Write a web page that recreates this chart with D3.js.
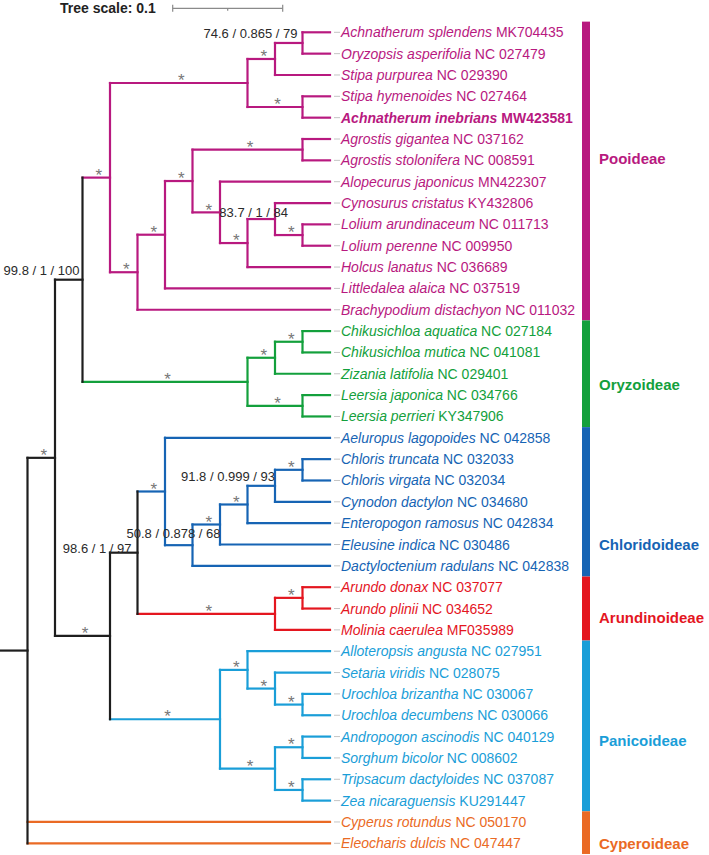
<!DOCTYPE html>
<html>
<head>
<meta charset="utf-8">
<script src="https://cdn.jsdelivr.net/npm/d3@7"></script>
<style>
  html, body { margin: 0; padding: 0; background: #ffffff; }
  svg { display: block; font-family: "Liberation Sans", Arial, Helvetica, sans-serif; }
</style>
</head>
<body>
<script>
// ---------------- DATA ----------------
const leafSpecies = [
  "Achnatherum splendens", "Oryzopsis asperifolia", "Stipa purpurea", "Stipa hymenoides",
  "Achnatherum inebrians", "Agrostis gigantea", "Agrostis stolonifera", "Alopecurus japonicus",
  "Cynosurus cristatus", "Lolium arundinaceum", "Lolium perenne", "Holcus lanatus",
  "Littledalea alaica", "Brachypodium distachyon",
  "Chikusichloa aquatica", "Chikusichloa mutica", "Zizania latifolia", "Leersia japonica", "Leersia perrieri",
  "Aeluropus lagopoides", "Chloris truncata", "Chloris virgata", "Cynodon dactylon",
  "Enteropogon ramosus", "Eleusine indica", "Dactyloctenium radulans",
  "Arundo donax", "Arundo plinii", "Molinia caerulea",
  "Alloteropsis angusta", "Setaria viridis", "Urochloa brizantha", "Urochloa decumbens",
  "Andropogon ascinodis", "Sorghum bicolor", "Tripsacum dactyloides", "Zea nicaraguensis",
  "Cyperus rotundus", "Eleocharis dulcis"
];
const leafAccessions = [
  "MK704435", "NC 027479", "NC 029390", "NC 027464",
  "MW423581", "NC 037162", "NC 008591", "MN422307",
  "KY432806", "NC 011713", "NC 009950", "NC 036689",
  "NC 037519", "NC 011032",
  "NC 027184", "NC 041081", "NC 029401", "NC 034766", "KY347906",
  "NC 042858", "NC 032033", "NC 032034", "NC 034680",
  "NC 042834", "NC 030486", "NC 042838",
  "NC 037077", "NC 034652", "MF035989",
  "NC 027951", "NC 028075", "NC 030067", "NC 030066",
  "NC 040129", "NC 008602", "NC 037087", "KU291447",
  "NC 050170", "NC 047447"
];
const highlightedLeaves = [4];

const cladeNames  = ["Pooideae", "Oryzoideae", "Chloridoideae", "Arundinoideae", "Panicoideae", "Cyperoideae"];
const cladeSizes  = [14, 5, 7, 3, 8, 2];
const cladeColors = ["#b8197f", "#13a03c", "#1664b4", "#e4161f", "#1a9ed8", "#ea6a24"];
const cladeLabelAt = [5.9, 16.5, 24, 27.4, 33.2, 38];   // leaf index where subfamily label sits

// support values (ML bootstrap / Bayesian PP / MP bootstrap); "*" = full support
const supportTexts = ["74.6 / 0.865 / 79", "83.7 / 1 / 84", "99.8 / 1 / 100",
                      "91.8 / 0.999 / 93", "50.8 / 0.878 / 68", "98.6 / 1 / 97"];

// topology with branch lengths (leaves = index into leafSpecies; internal label = support)
const stipeae   = "(((0:0.025,1:0.025)b0:0.025,2:0.05)*:0.025,(3:0.025,4:0.025)*:0.05)*:0.125";
const poeae     = "((((5:0.025,6:0.025)*:0.1,(7:0.1,((8:0.05,(9:0.025,10:0.025)*:0.025)b1:0.025,11:0.075)*:0.025)*:0.025)*:0.025,12:0.15)*:0.025,13:0.175)*:0.025";
const oryzo     = "(((14:0.025,15:0.025)*:0.025,16:0.05)*:0.025,(17:0.025,18:0.025)*:0.05)*:0.15";
const chlorido  = "(19:0.15,(((((20:0.025,21:0.025)*:0.025,22:0.05)b3:0.025,23:0.075)*:0.025,24:0.1)*:0.025,25:0.125)b4:0.025)*:0.025";
const arundino  = "((26:0.025,27:0.025)*:0.025,28:0.05)*:0.125";
const panico    = "((29:0.075,(30:0.05,(31:0.025,32:0.025)*:0.025)*:0.025)*:0.025,((33:0.025,34:0.025)*:0.025,(35:0.025,36:0.025)*:0.025)*:0.05)*:0.1";
const newick =
  "(((" + "(" + stipeae + "," + poeae + ")*:0.025," + oryzo + ")b2:0.025," +
  "((" + chlorido + "," + arundino + ")b5:0.025," + panico + ")*:0.05)*:0.025," +
  "37:0.275,38:0.275):0.025;";

const treeScaleValue = 0.1;

// ---------------- STYLE / LAYOUT ----------------
const W = 709, H = 855;
const tipX = 330, labelX = 341, barX = 582, barW = 8, cladeLabelX = 599;
const supportOffsets = { b0: [-5, -4.5], b1: [13, -2], b2: [-3, -5], b3: [0, -4.5], b4: [28, -7.5], b5: [-6, 0] };

function parseNewick(s) {
  let i = 0;
  function node() {
    const n = { name: "", length: 0 };
    if (s[i] === "(") {
      i++; n.children = [];
      n.children.push(node());
      while (s[i] === ",") { i++; n.children.push(node()); }
      i++; // ')'
    }
    let name = "";
    while (i < s.length && !":,();".includes(s[i])) name += s[i++];
    n.name = name;
    if (s[i] === ":") {
      i++; let num = "";
      while (i < s.length && !",();".includes(s[i])) num += s[i++];
      n.length = +num;
    }
    return n;
  }
  return node();
}

const root = d3.hierarchy(parseNewick(newick));
root.each(d => { d.dist = (d.parent ? d.parent.dist : 0) + d.data.length; });

const nLeaves = leafSpecies.length;
const x = d3.scaleLinear().domain([0, 0.3]).range([0, tipX]);
const y = d3.scaleLinear().domain([0, nLeaves - 1]).range([32.3, 843.3]);
const step = y(1) - y(0);

// clade of each leaf
const leafClade = [];
cladeSizes.forEach((n, c) => { for (let k = 0; k < n; k++) leafClade.push(c); });

root.eachAfter(d => {
  if (!d.children) {
    d.leafIndex = +d.data.name;
    d.y = y(d.leafIndex);
    d.clade = leafClade[d.leafIndex];
  } else {
    d.y = (d.children[0].y + d.children[d.children.length - 1].y) / 2;
    const cs = new Set(d.children.map(c => c.clade));
    d.clade = (cs.size === 1 && !cs.has(-1)) ? d.children[0].clade : -1;
  }
  d.x = x(d.dist);
});
const colorOf = d => d.clade >= 0 ? cladeColors[d.clade] : "#1e1e1e";

const svg = d3.select("body").append("svg").attr("width", W).attr("height", H);

// ---- tree scale ----
svg.append("text").attr("x", 60).attr("y", 12.5)
  .attr("font-size", 14).attr("font-weight", "bold").attr("fill", "#222")
  .text("Tree scale: " + treeScaleValue);
const sb0 = 172.7, sbLen = x(treeScaleValue) - x(0), sbY = 8.3;
const sg = svg.append("g").attr("stroke", "#8a8a8a").attr("stroke-width", 1.2);
sg.append("line").attr("x1", sb0).attr("x2", sb0 + sbLen).attr("y1", sbY).attr("y2", sbY);
sg.append("line").attr("x1", sb0).attr("x2", sb0).attr("y1", sbY - 3.5).attr("y2", sbY + 3.5);
sg.append("line").attr("x1", sb0 + sbLen).attr("x2", sb0 + sbLen).attr("y1", sbY - 3.5).attr("y2", sbY + 3.5);
sg.append("line").attr("x1", sb0 + sbLen / 2).attr("x2", sb0 + sbLen / 2).attr("y1", sbY).attr("y2", sbY + 2.5);

// ---- branches ----
const gb = svg.append("g").attr("fill", "none").attr("stroke-width", 2.2).attr("stroke-linecap", "square");
gb.append("path").attr("d", `M0,${root.y}H${root.x}`).attr("stroke", "#1e1e1e");
root.descendants().filter(d => d.parent).forEach(d => {
  gb.append("path").attr("d", `M${d.parent.x},${d.y}H${d.x}`).attr("stroke", colorOf(d));
});
root.descendants().filter(d => d.children).forEach(d => {
  const c0 = d.children[0], c1 = d.children[d.children.length - 1];
  gb.append("path").attr("d", `M${d.x},${c0.y}V${c1.y}`).attr("stroke", colorOf(d));
});

// ---- support values ----
root.descendants().filter(d => d.children && d.parent).forEach(d => {
  const nm = d.data.name;
  if (nm === "*") {
    svg.append("text")
      .attr("x", (d.parent.x + d.x) / 2 + 2.5).attr("y", d.y + 3.2)
      .attr("text-anchor", "middle").attr("font-size", 17).attr("fill", "#777777")
      .text("*");
  } else if (nm.startsWith("b")) {
    const idx = +nm.slice(1), off = supportOffsets[nm];
    svg.append("text")
      .attr("x", d.x + off[0]).attr("y", d.y + off[1])
      .attr("text-anchor", "end").attr("font-size", 13).attr("fill", "#2a2a2a")
      .text(supportTexts[idx]);
  }
});

// ---- leaf leaders and labels ----
const leaves = root.leaves();
leaves.forEach(d => {
  svg.append("line").attr("x1", tipX + 4).attr("x2", labelX - 1)
    .attr("y1", d.y).attr("y2", d.y).attr("stroke", "#c4c4c4").attr("stroke-width", 1);
  const bold = highlightedLeaves.includes(d.leafIndex);
  const t = svg.append("text").attr("x", labelX).attr("y", d.y + 5)
    .attr("font-size", 14).attr("fill", cladeColors[d.clade])
    .attr("font-weight", bold ? "bold" : "normal");
  t.append("tspan").attr("font-style", "italic").text(leafSpecies[d.leafIndex]);
  t.append("tspan").text(" " + leafAccessions[d.leafIndex]);
});

// ---- subfamily bars and labels ----
let start = 0;
cladeNames.forEach((name, c) => {
  const first = start, last = start + cladeSizes[c] - 1;
  svg.append("rect").attr("x", barX).attr("width", barW)
    .attr("y", y(first) - step / 2).attr("height", y(last) - y(first) + step)
    .attr("fill", cladeColors[c]);
  svg.append("text").attr("x", cladeLabelX).attr("y", y(cladeLabelAt[c]) + 5.5)
    .attr("font-size", 15).attr("font-weight", "bold").attr("fill", cladeColors[c])
    .text(name);
  start += cladeSizes[c];
});
</script>
</body>
</html>
